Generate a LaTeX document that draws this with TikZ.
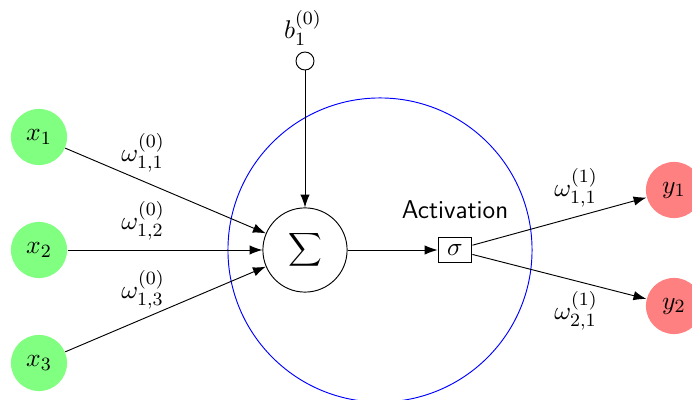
\documentclass[tikz,border=0pt]{standalone}
\usetikzlibrary{arrows.meta}
\definecolor{ingreen}{RGB}{128,255,128}
\definecolor{outred}{RGB}{255,128,128}
\begin{document}
\begin{tikzpicture}[x=0.4275pt,y=-0.4275pt,
  every node/.append style={font=\fontsize{11}{13}\selectfont},
  inputnode/.style={circle,fill=ingreen,minimum size=24pt,inner sep=0pt},
  outputnode/.style={circle,fill=outred,minimum size=24pt,inner sep=0pt},
  sumnode/.style={circle,draw,minimum size=36pt,inner sep=0pt},
  actnode/.style={rectangle,draw,minimum width=14.5pt,minimum height=11pt,inner sep=0pt},
  biasnode/.style={circle,draw,minimum size=7.7pt,inner sep=0pt},
  conn/.style={-{Latex[length=5.5pt,width=4pt]}},
  wlabel/.style={inner sep=0pt}]
\useasboundingbox (0,0) rectangle (692,400);
\node[circle,draw=blue,minimum size=130pt,inner sep=0pt] (act) at (380,250) {};
\node[inputnode] (x1) at (39,137) {$x_1$};
\node[inputnode] (x2) at (39,250) {$x_2$};
\node[inputnode] (x3) at (39,363) {$x_3$};
\node[sumnode] (sum) at (305,250) {$\displaystyle\sum$};
\node[biasnode] (b) at (305,61) {};
\node[wlabel] (bl) at (303,28) {$b_1^{(0)}$};
\node[actnode] (sig) at (455,250) {$\sigma$};
\node[inner sep=0pt] (actl) at (455,210) {\sffamily Activation};
\node[outputnode] (y1) at (674,190) {$y_1$};
\node[outputnode] (y2) at (674,306) {$y_2$};
\draw[conn] (x1) -- (sum);
\draw[conn] (x2) -- (sum);
\draw[conn] (x3) -- (sum);
\draw[conn] (b) -- (sum);
\draw[conn] (sum) -- (sig);
\draw[conn] (sig) -- (y1);
\draw[conn] (sig) -- (y2);
\node[wlabel] (w11) at (143,153) {$\omega_{1,1}^{(0)}$};
\node[wlabel] (w12) at (143,221) {$\omega_{1,2}^{(0)}$};
\node[wlabel] (w13) at (143,290) {$\omega_{1,3}^{(0)}$};
\node[wlabel] (v11) at (576,188) {$\omega_{1,1}^{(1)}$};
\node[wlabel] (v21) at (576,311) {$\omega_{2,1}^{(1)}$};
\end{tikzpicture}
\end{document}
